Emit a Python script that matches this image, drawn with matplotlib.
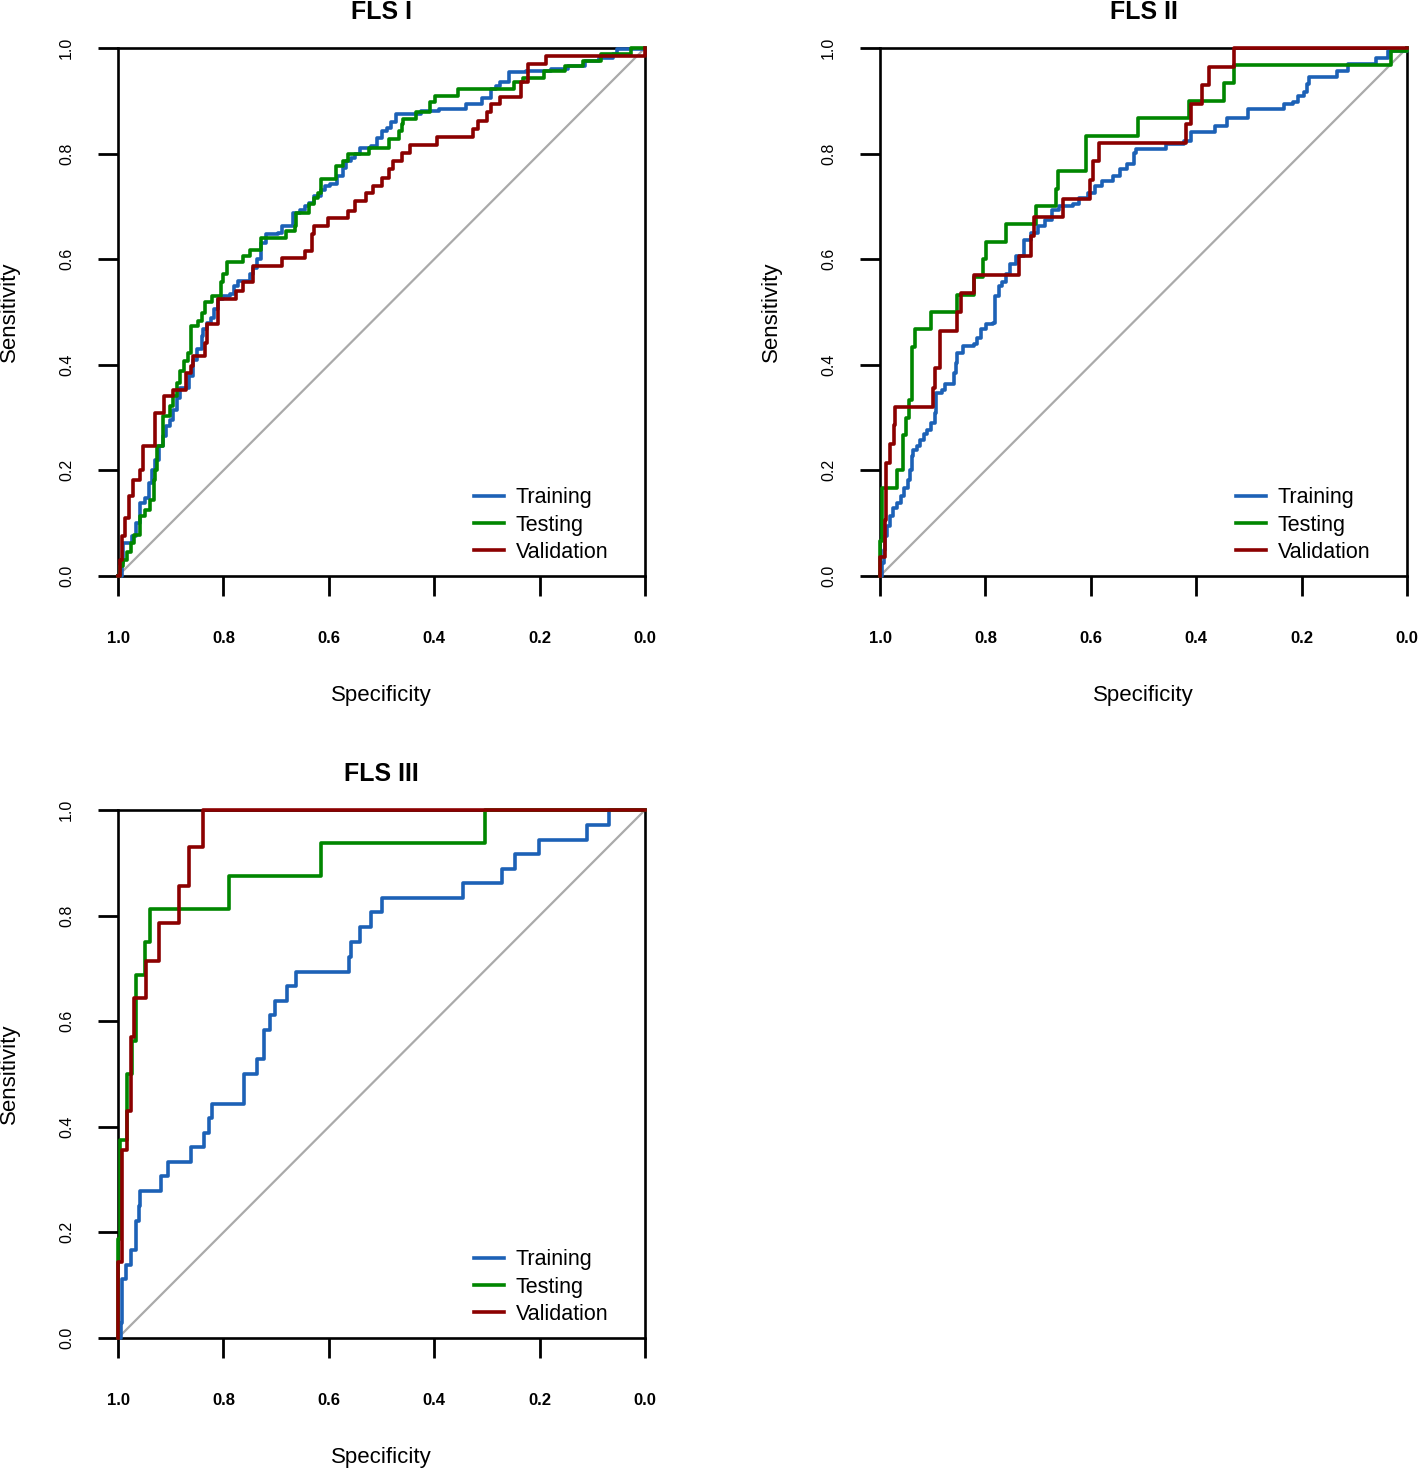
import matplotlib.pyplot as plt

plt.rcParams['font.family'] = ['Liberation Sans', 'DejaVu Sans']

train_col = '#1c61b6'
test_col = '#008600'
valid_col = '#8b0000'

labels = ['Training', 'Testing', 'Validation']
ticks = [0.0, 0.2, 0.4, 0.6, 0.8, 1.0]

# (specificity, sensitivity) after each step of the ROC curves
fls1_training = [(1.0, 0.0), (0.993, 0.024), (0.990, 0.062), (0.973, 0.075), (0.966, 0.100), (0.959, 0.138),
                 (0.949, 0.147), (0.942, 0.176), (0.936, 0.201), (0.929, 0.220), (0.922, 0.246), (0.915, 0.265),
                 (0.909, 0.284), (0.902, 0.296), (0.895, 0.315), (0.888, 0.337), (0.882, 0.356), (0.865, 0.378),
                 (0.858, 0.410), (0.851, 0.429), (0.841, 0.454), (0.838, 0.467), (0.831, 0.480), (0.824, 0.489),
                 (0.817, 0.505), (0.810, 0.524), (0.800, 0.530), (0.787, 0.534), (0.780, 0.549), (0.773, 0.559),
                 (0.749, 0.572), (0.743, 0.584), (0.736, 0.600), (0.729, 0.631), (0.719, 0.647), (0.696, 0.650),
                 (0.689, 0.663), (0.668, 0.688), (0.655, 0.694), (0.645, 0.701), (0.638, 0.707), (0.628, 0.720),
                 (0.614, 0.732), (0.608, 0.739), (0.597, 0.742), (0.584, 0.758), (0.574, 0.773), (0.567, 0.786),
                 (0.557, 0.792), (0.550, 0.799), (0.540, 0.811), (0.520, 0.815), (0.509, 0.830), (0.499, 0.843),
                 (0.489, 0.849), (0.482, 0.859), (0.472, 0.875), (0.425, 0.881), (0.391, 0.885), (0.340, 0.894),
                 (0.310, 0.906), (0.293, 0.922), (0.283, 0.928), (0.276, 0.935), (0.259, 0.954), (0.225, 0.957),
                 (0.178, 0.960), (0.147, 0.966), (0.114, 0.976), (0.087, 0.982), (0.060, 0.989), (0.053, 0.998),
                 (0.0, 1.0)]
fls1_testing = [(1.0, 0.0), (0.997, 0.018), (0.990, 0.030), (0.983, 0.046), (0.976, 0.062), (0.970, 0.078),
                (0.959, 0.113), (0.949, 0.125), (0.939, 0.144), (0.932, 0.182), (0.929, 0.201), (0.926, 0.246),
                (0.915, 0.303), (0.902, 0.322), (0.895, 0.341), (0.888, 0.366), (0.882, 0.388), (0.875, 0.407),
                (0.868, 0.423), (0.861, 0.473), (0.848, 0.483), (0.841, 0.499), (0.834, 0.518), (0.821, 0.530),
                (0.804, 0.556), (0.800, 0.572), (0.794, 0.594), (0.763, 0.606), (0.750, 0.618), (0.729, 0.641),
                (0.682, 0.653), (0.665, 0.663), (0.662, 0.688), (0.638, 0.704), (0.628, 0.716), (0.621, 0.726),
                (0.614, 0.751), (0.587, 0.777), (0.574, 0.786), (0.564, 0.799), (0.523, 0.811), (0.486, 0.827),
                (0.466, 0.843), (0.462, 0.856), (0.459, 0.865), (0.435, 0.878), (0.408, 0.897), (0.398, 0.909),
                (0.354, 0.922), (0.249, 0.935), (0.232, 0.944), (0.191, 0.957), (0.151, 0.966), (0.117, 0.976),
                (0.083, 0.989), (0.026, 1.0), (0.0, 1.0)]
fls1_validation = [(1.0, 0.0), (0.997, 0.030), (0.993, 0.075), (0.986, 0.109), (0.980, 0.151), (0.972, 0.182),
                   (0.959, 0.201), (0.953, 0.246), (0.929, 0.309), (0.912, 0.341), (0.895, 0.353), (0.871, 0.385),
                   (0.861, 0.397), (0.858, 0.416), (0.834, 0.442), (0.831, 0.477), (0.810, 0.524), (0.777, 0.540),
                   (0.763, 0.556), (0.743, 0.587), (0.689, 0.603), (0.645, 0.615), (0.631, 0.647), (0.628, 0.663),
                   (0.601, 0.678), (0.564, 0.691), (0.550, 0.710), (0.530, 0.726), (0.516, 0.739), (0.499, 0.754),
                   (0.486, 0.770), (0.479, 0.786), (0.462, 0.802), (0.445, 0.816), (0.394, 0.832), (0.327, 0.846),
                   (0.317, 0.862), (0.300, 0.878), (0.293, 0.894), (0.276, 0.908), (0.235, 0.935), (0.222, 0.970),
                   (0.188, 0.985), (0.0, 1.0)]

fls2_training = [(1.0, 0.0), (0.997, 0.024), (0.993, 0.049), (0.990, 0.075), (0.986, 0.094), (0.981, 0.113),
                 (0.976, 0.128), (0.968, 0.138), (0.961, 0.151), (0.954, 0.166), (0.947, 0.182), (0.944, 0.201),
                 (0.940, 0.227), (0.937, 0.239), (0.930, 0.246), (0.924, 0.258), (0.917, 0.268), (0.910, 0.277),
                 (0.903, 0.290), (0.896, 0.309), (0.893, 0.347), (0.883, 0.353), (0.876, 0.363), (0.859, 0.385),
                 (0.856, 0.404), (0.853, 0.423), (0.842, 0.435), (0.822, 0.439), (0.815, 0.451), (0.809, 0.467),
                 (0.798, 0.477), (0.785, 0.480), (0.781, 0.530), (0.775, 0.549), (0.768, 0.556), (0.761, 0.572),
                 (0.754, 0.591), (0.741, 0.606), (0.727, 0.637), (0.714, 0.650), (0.700, 0.663), (0.687, 0.675),
                 (0.673, 0.694), (0.660, 0.701), (0.633, 0.704), (0.622, 0.716), (0.606, 0.726), (0.592, 0.739),
                 (0.578, 0.748), (0.558, 0.758), (0.545, 0.770), (0.531, 0.780), (0.518, 0.802), (0.514, 0.808),
                 (0.457, 0.818), (0.423, 0.824), (0.409, 0.840), (0.365, 0.853), (0.342, 0.868), (0.301, 0.884),
                 (0.233, 0.894), (0.216, 0.897), (0.206, 0.909), (0.196, 0.916), (0.189, 0.932), (0.186, 0.946),
                 (0.132, 0.957), (0.112, 0.970), (0.058, 0.982), (0.037, 0.994), (0.0, 1.0)]
fls2_testing = [(1.0, 0.0), (1.0, 0.067), (0.997, 0.167), (0.968, 0.2), (0.957, 0.267), (0.951, 0.3),
                (0.945, 0.333), (0.940, 0.433), (0.934, 0.467), (0.903, 0.5), (0.853, 0.533), (0.822, 0.567),
                (0.805, 0.6), (0.798, 0.633), (0.761, 0.667), (0.704, 0.7), (0.666, 0.733), (0.662, 0.767),
                (0.609, 0.833), (0.511, 0.867), (0.413, 0.9), (0.348, 0.933), (0.328, 0.967), (0.030, 0.995),
                (0.0, 1.0)]
fls2_validation = [(1.0, 0.0), (1.0, 0.036), (0.991, 0.107), (0.988, 0.214), (0.981, 0.25), (0.974, 0.286),
                   (0.971, 0.321), (0.900, 0.357), (0.896, 0.393), (0.886, 0.464), (0.853, 0.5), (0.846, 0.536),
                   (0.822, 0.571), (0.737, 0.607), (0.714, 0.643), (0.707, 0.679), (0.653, 0.714), (0.602, 0.75),
                   (0.595, 0.786), (0.585, 0.821), (0.419, 0.857), (0.409, 0.893), (0.389, 0.929), (0.376, 0.964),
                   (0.328, 1.0), (0.0, 1.0)]

fls3_training = [(1.0, 0.0), (0.995, 0.028), (0.992, 0.111), (0.985, 0.139), (0.976, 0.167), (0.966, 0.222),
                 (0.961, 0.25), (0.958, 0.278), (0.919, 0.306), (0.905, 0.333), (0.861, 0.361), (0.837, 0.389),
                 (0.828, 0.417), (0.821, 0.444), (0.760, 0.5), (0.736, 0.528), (0.723, 0.583), (0.711, 0.611),
                 (0.702, 0.639), (0.679, 0.667), (0.663, 0.694), (0.561, 0.722), (0.557, 0.75), (0.540, 0.778),
                 (0.520, 0.806), (0.499, 0.833), (0.345, 0.861), (0.271, 0.889), (0.246, 0.917), (0.202, 0.944),
                 (0.110, 0.972), (0.068, 1.0), (0.0, 1.0)]
fls3_testing = [(1.0, 0.0), (1.0, 0.188), (0.997, 0.375), (0.982, 0.5), (0.973, 0.5625), (0.966, 0.6875),
                (0.949, 0.75), (0.939, 0.8125), (0.790, 0.875), (0.614, 0.9375), (0.304, 1.0), (0.0, 1.0)]
fls3_validation = [(1.0, 0.0), (1.0, 0.143), (0.993, 0.357), (0.983, 0.429), (0.976, 0.571), (0.970, 0.643),
                   (0.946, 0.714), (0.922, 0.786), (0.885, 0.857), (0.865, 0.929), (0.838, 1.0), (0.0, 1.0)]

W, H = 1418, 1468
fig = plt.figure(figsize=(W / 100, H / 100), dpi=100)


def roc_panel(left, bottom, title, curves):
    ax = fig.add_axes([left / W, 1 - bottom / H, 527 / W, 528 / H])
    ax.plot([1, 0], [0, 1], color='#aaaaaa', lw=1.6, zorder=1)
    for name, pts, col in zip(labels, curves, [train_col, test_col, valid_col]):
        spec = [p[0] for p in pts]
        sens = [p[1] for p in pts]
        ax.step(spec, sens, where='post', color=col, lw=2.6, label=name, zorder=3, clip_on=False)
    ax.set_xlim(1, 0)
    ax.set_ylim(0, 1)
    ax.set_xticks(ticks)
    ax.set_yticks(ticks)
    ax.set_xticklabels(['%.1f' % t for t in ticks], fontsize=12, fontweight='bold')
    ax.set_yticklabels(['%.1f' % t for t in ticks], fontsize=11.5, rotation=90, va='center')
    ax.tick_params(axis='x', length=14.5, width=2, pad=25)
    ax.tick_params(axis='y', length=14.5, width=2, pad=17)
    for s in ax.spines.values():
        s.set_linewidth(1.9)
    ax.set_title(title, fontsize=18, fontweight='bold', pad=21)
    ax.set_xlabel('Specificity', fontsize=16, va='center')
    ax.xaxis.set_label_coords(0.5, (576 - 695) / 528)
    ax.set_ylabel('Sensitivity', fontsize=16, va='center')
    ax.yaxis.set_label_coords((9 - 118) / 527, 0.5)
    ax.legend(loc='upper left', bbox_to_anchor=(0.6755, 0.168), frameon=False, fontsize=15.5,
              borderpad=0, borderaxespad=0, handlelength=1.4, handletextpad=0.55, labelspacing=0.29)
    return ax


roc_panel(118, 576, 'FLS I', [fls1_training, fls1_testing, fls1_validation])
roc_panel(880, 576, 'FLS II', [fls2_training, fls2_testing, fls2_validation])
roc_panel(118, 1338, 'FLS III', [fls3_training, fls3_testing, fls3_validation])

fig.savefig('out.png', dpi=100)
